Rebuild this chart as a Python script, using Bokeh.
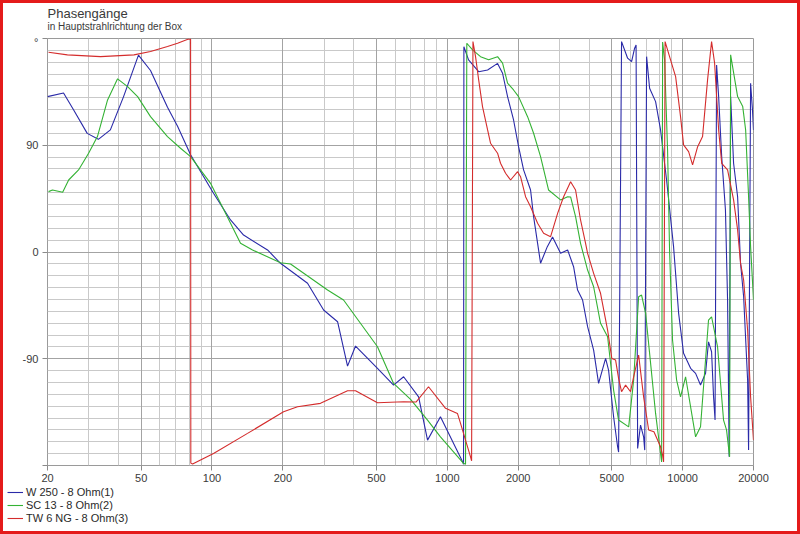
from bokeh.plotting import figure
from bokeh.layouts import column
from bokeh.models import FixedTicker, Grid, Legend, LegendItem, Range1d
from bokeh.core.properties import value
from bokeh.embed import file_html
from bokeh.resources import INLINE

# ---------------- data ----------------
title_text = "Phasengänge"
subtitle_text = "in Hauptstrahlrichtung der Box"
x_ticks = [20, 50, 100, 200, 500, 1000, 2000, 5000, 10000, 20000]
y_ticks = [-180, -90, 0, 90, 180]

w250_freq = [20, 23.4, 25.8, 29.5, 32.9, 37.0, 42.1, 48.7, 54.8, 64.7, 71.4, 81.1, 101.5, 119.9, 136.2,
             172.2, 195.5, 254.7, 298, 341.7, 376.7, 407.4, 505, 591, 652, 755, 824, 935, 1161, 1172,
             1176, 1231, 1359, 1483, 1635, 1717, 1803, 1912, 2008, 2109, 2258, 2326, 2419, 2490, 2660,
             2800, 3028, 3245, 3440, 3577, 3757, 3945, 4185, 4393, 4705, 4843, 5088, 5291, 5343, 5500,
             5836, 6067, 6250, 6340, 6437, 6623, 6825, 6900, 7028, 7237, 7674, 8055, 8545, 9148, 9614,
             10090, 10810, 11350, 11910, 12510, 12880, 13270, 13530, 13730, 13940, 14220, 14650, 15200,
             15520, 15680, 15760, 15990, 16460, 17120, 17620, 18160, 18880, 19060, 19440, 19800, 20000]
w250_phase = [131, 134, 120, 100, 95, 103, 131, 166, 153, 122, 106, 82, 49.5, 27, 14.3,
              1.7, -9.5, -26.4, -48.9, -58.8, -96.2, -79.3, -98.1, -112.2, -105.2, -122.1, -158.6, -138.9, -176.9, -179,
              173, 162, 152, 153.5, 159, 150.7, 131, 111.3, 88.8, 69.2, 52.3, 29.8, 7.3, -9.5, 4.5,
              12.7, -1.1, 1.7, -12.4, -32.1, -40.5, -63, -82.7, -110.8, -89.7, -99.5, -138.9, -164.2, -168.7, 177.4,
              163.4, 160.5, 171.8, 174.6, -165.6, -145.9, -155.8, -167, 164.7, 138.1, 126.8, 102.9, 60.7, 4.5, -51.7,
              -85.4, -98.1, -102.3, -112.2, -102.3, -75.7, -84.1, -122.1, -141.7, 157.7, 131, 80.4, 35.4,
              -40.5, -125, -172.7, 131, 74.8, 46.6, -9.5, -37.7, -108, -167, 142.3, 119.8, 102.9]

sc13_freq = [20.2, 21.0, 23.2, 24.6, 27.1, 29.9, 32.6, 36.0, 39.7, 43.8, 48.3, 54.8, 64.7, 73.5, 81.1,
             98.6, 132.2, 148.7, 195.5, 215.7, 309.8, 362.3, 505, 591, 698, 824, 935, 1172, 1195, 1210,
             1280, 1384, 1498, 1635, 1717, 1803, 1912, 2008, 2193, 2326, 2490, 2692, 3028, 3245, 3341,
             3507, 3682, 3945, 4185, 4478, 4798, 5088, 5343, 5897, 6190, 6500, 6690, 6960, 7308, 7674,
             8055, 8140, 8220, 8380, 8628, 8797, 9057, 9426, 9795, 10290, 11350, 11910, 12880, 13270, 14070,
             14920, 15360, 15830, 15990, 17120, 18000, 18520, 19060, 19440, 20000]
sc13_phase = [50.9, 52.3, 50.4, 60.7, 69.2, 83.3, 97.3, 128.2, 146, 139.4, 131, 114.1, 97.3, 87.5, 80.4,
              57.9, 7.3, 1.7, -9, -10.1, -32.1, -40.5, -79.9, -110.8, -124.2, -141.7, -155.8, -178.2, -179, 176,
              170.4, 164.7, 162, 164.7, 159.2, 142.3, 136.6, 131, 114.1, 100.1, 80.4, 52.3, 43.9, 46.6, 46.4,
              29.8, 7.3, -15.2, -29.3, -60.1, -71.4, -116.4, -141.7, -147.4, -108, -37.7, -36.3, -51.7, -93.9, -136.1,
              -169.8, -177, 177, 162, 86, 1.7, -74.2, -108, -122.1, -105.2, -155.8, -147.4, -57.4, -54.6, -79.9,
              -141.7, -150, -172.7, 166.2, 131, 122.6, 102.9, 46.6, 4.5, -40.5]

tw6_freq = [20.2, 24.3, 33.6, 46.6, 54.8, 64.7, 71.4, 79.5, 81.1, 81.3, 82.7, 101.5, 141.6, 201.4, 230.9,
            289.1, 376.7, 407.4, 505, 652, 736, 832, 983, 1104, 1138, 1195, 1255, 1268, 1285, 1318,
            1359, 1411, 1483, 1526, 1635, 1683, 1768, 1857, 1989, 2047, 2150, 2258, 2419, 2565, 2747,
            2942, 3120, 3341, 3507, 3682, 3868, 3945, 4185, 4478, 4798, 5000, 5188, 5343, 5500, 5722,
            6006, 6190, 6500, 6825, 7170, 7550, 8055, 8218, 8298, 8420, 8883, 9335, 9795, 10090, 10600,
            11020, 11580, 12150, 12760, 13270, 13670, 14220, 14650, 15520, 16460, 17120, 17620, 18160, 18880,
            19440, 20000]
tw6_phase = [168.4, 166.2, 164.7, 166.2, 169, 173.2, 176, 179.5, 179.5, -178, -178.8, -169.8, -152.9, -134.7, -130.5,
             -127.6, -117, -117, -127.1, -126.3, -126.5, -113.6, -131.8, -136.1, -144.5, -158.6, -172.7, -176, 177.4, 164.7,
             145.1, 122.6, 102.9, 91.7, 83.3, 74.8, 66.4, 60.7, 67.7, 63.5, 46.6, 38.2, 24.2, 15.8, 12.9,
             32.6, 46.6, 59.3, 52.3, 27, 7.3, -1.1, -18, -34.8, -65.8, -89.7, -91.1, -106.5, -117.8, -112.2,
             -117.8, -105.2, -86.9, -122.1, -150.1, -151.6, -164.2, -171.2, -177, 177.4, 162, 147.9, 114.1, 90.3, 84.6,
             73.4, 88.8, 97.3, 145.1, 177.4, 159.2, 102.9, 74.8, 69.2, 43.9, 18.6, -9.5, -23.6, -65.8,
             -122.1, -158.6]

series_labels = ["W 250 - 8 Ohm(1)", "SC 13 - 8 Ohm(2)", "TW 6 NG - 8 Ohm(3)"]
series_colors = ["#2a2aa8", "#34b234", "#d42c2c"]

FONT = "Liberation Sans"
TEXT_COLOR = "#3a3a3a"
W = 794  # inner width (page 800 minus the 3px red frame on each side)


def strip(height):
    """A plain figure without axes whose frame fills it (pixel-like ranges)."""
    f = figure(width=W, height=height, x_range=Range1d(0, W), y_range=Range1d(0, height),
               output_backend="svg", toolbar_location=None, title=None,
               x_axis_location=None, y_axis_location=None, min_border=0,
               min_border_left=0, min_border_right=0, min_border_top=0, min_border_bottom=0,
               frame_align=False)
    f.grid.visible = False
    f.outline_line_color = None
    f.background_fill_color = "white"
    f.border_fill_color = "white"
    return f


# ---------------- header with the two title lines ----------------
head = strip(32)
head.text(x=[44], y=[22.3], text=[title_text], text_font=value(FONT), text_font_size="13px",
          text_color=TEXT_COLOR, text_baseline="alphabetic", text_align="left")
head.text(x=[44], y=[9], text=[subtitle_text], text_font=value(FONT), text_font_size="10px",
          text_color=TEXT_COLOR, text_baseline="alphabetic", text_align="left")

# ---------------- main chart ----------------
fig = figure(width=W, height=450, x_axis_type="log",
             x_range=Range1d(20, 20000), y_range=Range1d(-180, 180),
             output_backend="svg", toolbar_location=None, title=None, frame_align=False,
             min_border_left=44, min_border_right=44, min_border_top=3, min_border_bottom=20)
fig.background_fill_color = "white"
fig.border_fill_color = "white"
fig.outline_line_color = "#9a9a9a"

# grids: light lines everywhere, darker on labelled values
minor_x = [m * 10 ** d for d in range(1, 5) for m in range(1, 10) if 20 <= m * 10 ** d <= 20000]
fig.xgrid.ticker = FixedTicker(ticks=minor_x)
fig.xgrid.grid_line_color = "#c9c9c9"
fig.ygrid.ticker = FixedTicker(ticks=list(range(-170, 180, 10)))
fig.ygrid.grid_line_color = "#c9c9c9"
fig.add_layout(Grid(dimension=0, ticker=FixedTicker(ticks=x_ticks), grid_line_color="#a3a3a3"))
fig.add_layout(Grid(dimension=1, ticker=FixedTicker(ticks=[-90, 0, 90]), grid_line_color="#a3a3a3"))

# axes
fig.xaxis.ticker = FixedTicker(ticks=x_ticks, minor_ticks=[])
fig.xaxis.major_label_overrides = {t: str(t) for t in x_ticks}
fig.yaxis.ticker = FixedTicker(ticks=y_ticks, minor_ticks=[])
fig.yaxis.major_label_overrides = {180: "\u00b0", -180: "", 90: "90", 0: "0", -90: "-90"}
for ax in (fig.xaxis, fig.yaxis):
    ax.axis_line_color = None
    ax.major_tick_line_color = "#8a8a8a"
    ax.major_tick_in = 0
    ax.major_tick_out = 5
    ax.minor_tick_line_color = None
    ax.major_label_text_font = FONT
    ax.major_label_text_font_size = "11px"
    ax.major_label_text_color = TEXT_COLOR
fig.xaxis.major_label_standoff = 3
fig.yaxis.major_label_standoff = 4

# curves
for fx, ph, col in ((w250_freq, w250_phase, series_colors[0]),
                    (sc13_freq, sc13_phase, series_colors[1]),
                    (tw6_freq, tw6_phase, series_colors[2])):
    fig.line(fx, ph, line_color=col, line_width=1.1)

# ---------------- legend strip below the chart ----------------
leg = strip(46)
# legend sample renderers: data lies outside the strip's ranges, so only the legend shows them
leg_renderers = [leg.line([-10, -5], [-10, -5], line_color=c, line_width=1.1) for c in series_colors]
legend = Legend(items=[LegendItem(label=lab, renderers=[r]) for lab, r in zip(series_labels, leg_renderers)],
                location=(4, 7), orientation="vertical",
                label_text_font=FONT, label_text_font_size="11px", label_text_color="#2a2a2a",
                glyph_width=16, glyph_height=12, label_height=12, label_standoff=3,
                spacing=1, padding=0, margin=0,
                background_fill_alpha=0, border_line_alpha=0)
leg.add_layout(legend, "center")

p = column(head, fig, leg, spacing=0, styles={"border": "3px solid #e41b1b", "background-color": "white"})

open("out.html", "w").write(file_html(p, INLINE))
